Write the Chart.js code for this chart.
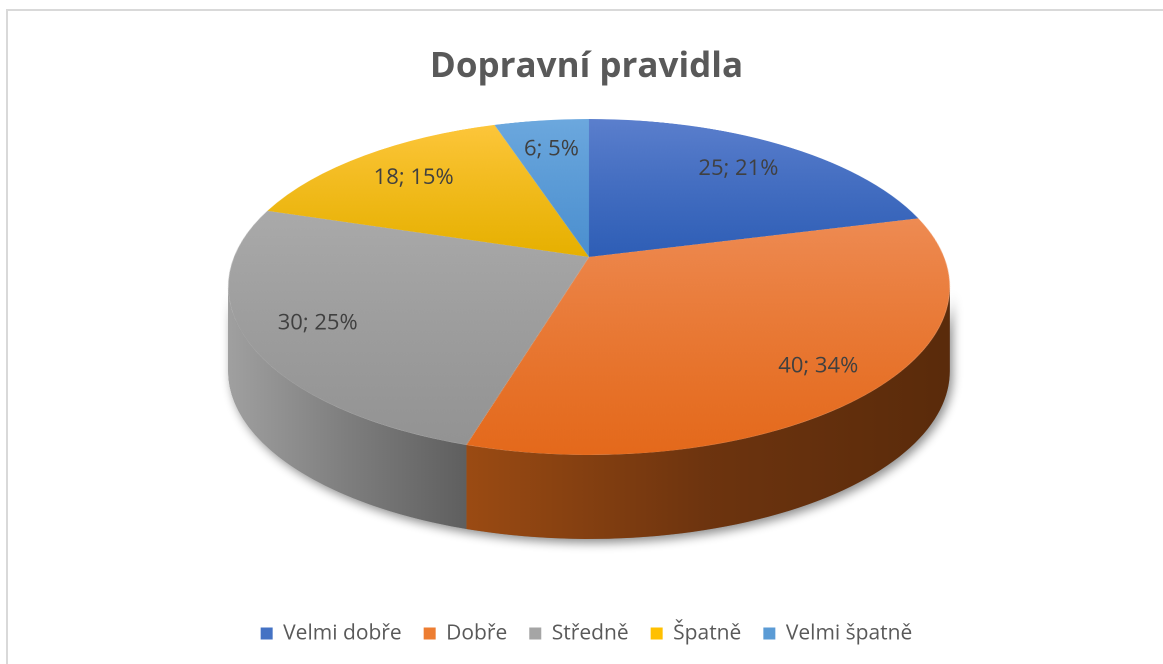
<!DOCTYPE html>
<html>
<head>
<meta charset="utf-8">
<script src="https://cdn.jsdelivr.net/npm/chart.js@4.4.1/dist/chart.umd.min.js"></script>
<style>
  html, body { margin: 0; padding: 0; background: #fff; }
  #wrap { position: relative; width: 1163px; height: 664px; }
</style>
</head>
<body>
<div id="wrap"><canvas id="pieChart"></canvas></div>
<script>
// chart data
var categories = ['Velmi dobře', 'Dobře', 'Středně', 'Špatně', 'Velmi špatně'];
var counts = [25, 40, 30, 18, 6];

// colours: legend swatch, top face (light -> dark), side wall (light -> mid -> dark)
var swatch = ['#4472c4', '#ed7d31', '#a5a5a5', '#ffc000', '#5b9bd5'];
var faceLight = ['#5b7fcd', '#ee8b53', '#aaaaaa', '#fdc63b', '#6ca8de'];
var faceDark = ['#2e5eb6', '#e4691b', '#939393', '#e6b000', '#4b8fcf'];
var sideLight = ['#2c4f91', '#9b4b13', '#a0a0a0', '#a77f00', '#3c6f9c'];
var sideMid = ['#243f76', '#6d340f', '#7e7e7e', '#8a6900', '#335c82'];
var sideDark = ['#1d3563', '#5a2b0b', '#5f5f5f', '#705500', '#284a69'];

// where the tilted pie lands on the page (perspective view)
var cx = 589, cy = 257, rx = 355, ry = 162.6, persp = 0.1786, depth = 84;

Chart.defaults.font.family = "'Open Sans', sans-serif";

function project(alpha, r) {
  var u = r * Math.cos(alpha), v = r * Math.sin(alpha), d = 1 - persp * v;
  return { x: cx + rx * u / d, y: cy + ry * v / d };
}
function rowToV(y) {
  var t = y - cy;
  return t / (ry + persp * t);
}

// vertical gradient over each slice of the flat pie
function faceColor(c) {
  var chart = c.chart, area = chart.chartArea, i = c.dataIndex;
  if (!area || i === undefined) return swatch[i] || '#999';
  var oy = (area.top + area.bottom) / 2, R = Math.min(area.width, area.height) / 2;
  var total = counts.reduce(function (s, v) { return s + v; }, 0);
  var start = -Math.PI / 2;
  for (var k = 0; k < i; k++) start += counts[k] / total * Math.PI * 2;
  var end = start + counts[i] / total * Math.PI * 2;
  var vmin = 0, vmax = 0;
  for (var j = 0; j <= 40; j++) {
    var s = Math.sin(start + (end - start) * j / 40);
    vmin = Math.min(vmin, s); vmax = Math.max(vmax, s);
  }
  var g = chart.ctx.createLinearGradient(0, oy + R * vmin, 0, oy + R * vmax);
  g.addColorStop(0, faceLight[i]);
  g.addColorStop(1, faceDark[i]);
  return g;
}

var pie3d = {
  id: 'pie3d',
  afterDatasetsDraw: function (chart) {
    var arcs = chart.getDatasetMeta(0).data;
    if (!arcs.length) return;
    var ctx = chart.ctx, dpr = chart.currentDevicePixelRatio, area = chart.chartArea;
    var ox = arcs[0].x, oy = arcs[0].y, R = arcs[0].outerRadius, m = 3;

    // grab the flat pie, then wipe it
    var off = document.createElement('canvas');
    off.width = Math.ceil((2 * R + 2 * m) * dpr);
    off.height = off.width;
    off.getContext('2d').drawImage(chart.canvas, (ox - R - m) * dpr, (oy - R - m) * dpr,
      off.width, off.height, 0, 0, off.width, off.height);
    ctx.save();
    ctx.setTransform(1, 0, 0, 1, 0, 0);
    ctx.clearRect(area.left * dpr, area.top * dpr, area.width * dpr, area.height * dpr);
    ctx.restore();

    // side wall (front half only)
    var aR = Math.asin(persp), aL = Math.PI - aR;
    function rimPath(t1, t2) {
      var n = 60, i, pt;
      ctx.beginPath();
      for (i = 0; i <= n; i++) {
        pt = project(t1 + (t2 - t1) * i / n, 1);
        if (i) ctx.lineTo(pt.x, pt.y); else ctx.moveTo(pt.x, pt.y);
      }
      for (i = n; i >= 0; i--) {
        pt = project(t1 + (t2 - t1) * i / n, 1);
        ctx.lineTo(pt.x, pt.y + depth);
      }
      ctx.closePath();
    }
    ctx.save();
    ctx.shadowColor = 'rgba(0,0,0,0.45)';
    ctx.shadowBlur = 10 * dpr;
    ctx.shadowOffsetX = 3 * dpr;
    ctx.shadowOffsetY = 4 * dpr;
    rimPath(aR, aL);
    ctx.fillStyle = '#777';
    ctx.fill();
    ctx.restore();
    arcs.forEach(function (arc, i) {
      var t1 = Math.max(arc.startAngle, aR), t2 = Math.min(arc.endAngle, aL);
      if (t2 <= t1) return;
      var pa = project(t1, 1), pb = project(t2, 1);
      var g = ctx.createLinearGradient(Math.min(pa.x, pb.x), 0, Math.max(pa.x, pb.x), 0);
      g.addColorStop(0, sideLight[i]);
      g.addColorStop(0.5, sideMid[i]);
      g.addColorStop(1, sideDark[i]);
      rimPath(t1, t2);
      ctx.fillStyle = g;
      ctx.fill();
    });

    // top face: stretch each row of the flat pie into perspective
    ctx.save();
    ctx.setTransform(1, 0, 0, 1, 0, 0);
    ctx.imageSmoothingQuality = 'high';
    var y1 = Math.floor((cy - ry / (1 + persp) - 3) * dpr);
    var y2 = Math.ceil((cy + ry / (1 - persp) + 3) * dpr);
    for (var yd = y1; yd < y2; yd++) {
      var va = rowToV(yd / dpr), vb = rowToV((yd + 1) / dpr), vm = rowToV((yd + 0.5) / dpr);
      var s = rx / (1 - persp * vm) * (R + m) / R;
      var sy = (m + R + R * va) * dpr, sh = R * (vb - va) * dpr;
      if (sy < 0 || sy + sh > off.height) continue;
      ctx.drawImage(off, 0, sy, off.width, sh, (cx - s) * dpr, yd, 2 * s * dpr, 1);
    }
    ctx.restore();

    // data labels "value; percent"
    var total = counts.reduce(function (s, v) { return s + v; }, 0);
    ctx.save();
    ctx.font = "22px 'Open Sans', sans-serif";
    ctx.fillStyle = '#404040';
    ctx.textAlign = 'center';
    ctx.textBaseline = 'middle';
    arcs.forEach(function (arc, i) {
      var mid = (arc.startAngle + arc.endAngle) / 2;
      var pt = project(mid, 0.76 + 0.1 * Math.max(0, Math.sin(mid)));
      ctx.fillText(counts[i] + '; ' + Math.round(counts[i] / total * 100) + '%', pt.x, pt.y);
    });
    ctx.restore();
  },
  afterDraw: function (chart) {
    var ctx = chart.ctx;
    ctx.save();
    ctx.fillStyle = '#d9d9d9';
    ctx.fillRect(6, 9, chart.width, 2);
    ctx.fillRect(6, 9, 2, chart.height);
    ctx.restore();
  }
};

new Chart(document.getElementById('pieChart'), {
  type: 'pie',
  data: {
    labels: categories,
    datasets: [{
      data: counts,
      backgroundColor: faceColor,
      borderWidth: 0,
      hoverOffset: 0
    }]
  },
  options: {
    responsive: true,
    maintainAspectRatio: false,
    devicePixelRatio: 2,
    animation: false,
    layout: { padding: { left: 10, bottom: 10 } },
    plugins: {
      tooltip: { enabled: false },
      title: {
        display: true,
        text: 'Dopravní pravidla',
        color: '#595959',
        font: { size: 35, weight: 'bold' },
        padding: { top: 46, bottom: 20 }
      },
      legend: {
        position: 'bottom',
        labels: {
          color: '#595959',
          font: { size: 21 },
          boxWidth: 12,
          boxHeight: 12,
          padding: 22,
          generateLabels: function () {
            return categories.map(function (t, i) {
              return { text: t, fillStyle: swatch[i], strokeStyle: swatch[i], lineWidth: 0,
                       hidden: false, index: i, fontColor: '#595959' };
            });
          }
        }
      }
    }
  },
  plugins: [pie3d]
});
</script>
</body>
</html>
